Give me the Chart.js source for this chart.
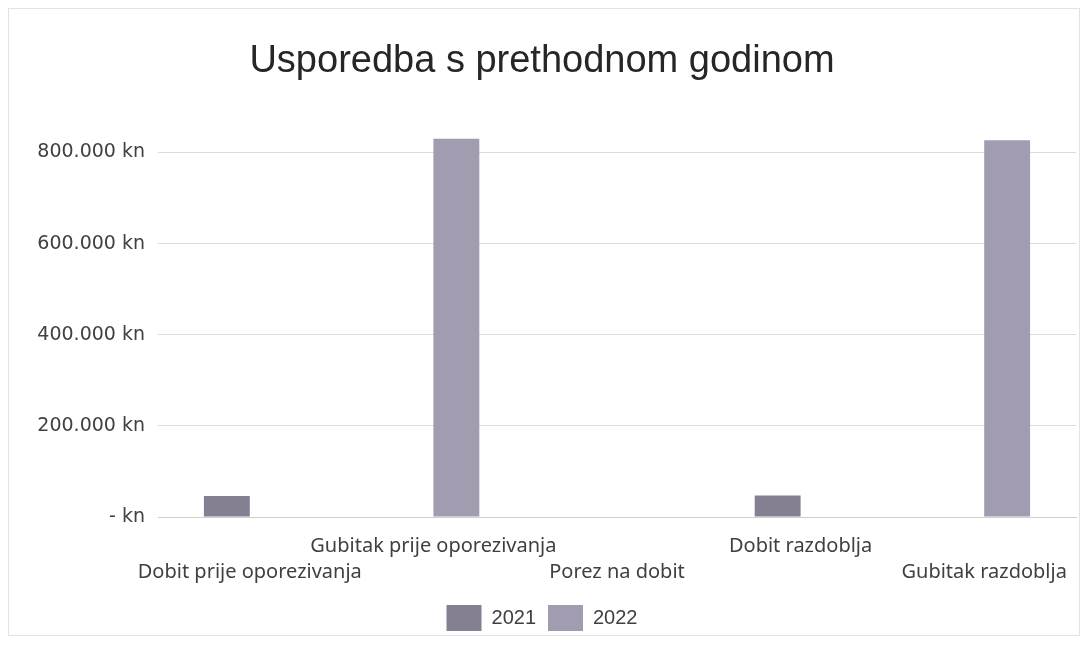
<!DOCTYPE html>
<html>
<head>
<meta charset="utf-8">
<title>Usporedba s prethodnom godinom</title>
<script src="https://cdn.jsdelivr.net/npm/chart.js"></script>
<style>
  html, body { margin: 0; padding: 0; background: #ffffff; }
  #wrap { position: relative; width: 1084px; height: 666px; }
  #frame {
    position: absolute; left: 8px; top: 8px; width: 1072px; height: 628px;
    border: 1px solid #e2e2e2; box-sizing: border-box; pointer-events: none;
  }
</style>
</head>
<body>
<div id="wrap">
  <canvas id="chart" width="1084" height="666"></canvas>
  <div id="frame"></div>
</div>
<script>
/* ================= DATA ================= */
const categories = [
  "Dobit prije oporezivanja",
  "Gubitak prije oporezivanja",
  "Porez na dobit",
  "Dobit razdoblja",
  "Gubitak razdoblja"
];
const values2021 = [46000, 0, 0, 47000, 0];
const values2022 = [0, 830000, 0, 0, 827000];

const yTickValues = [0, 200000, 400000, 600000, 800000];
const yTickLabels = ["- kn", "200.000 kn", "400.000 kn", "600.000 kn", "800.000 kn"];

/* ================= CHART ================= */
const ctx = document.getElementById("chart").getContext("2d");

new Chart(ctx, {
  type: "bar",
  data: {
    labels: categories,
    datasets: [{
      label: "2021",
      data: values2021,
      backgroundColor: "#857f92",
      categoryPercentage: 0.5,
      barPercentage: 1.0
    }, {
      label: "2022",
      data: values2022,
      backgroundColor: "#a29cb0",
      categoryPercentage: 0.5,
      barPercentage: 1.0
    }]
  },
  options: {
    responsive: false,
    animation: false,
    layout: { padding: { left: 8, right: 8, top: 20, bottom: 25 } },
    plugins: {
      title: {
        display: true,
        text: "Usporedba s prethodnom godinom",
        color: "#262626",
        font: { family: "Liberation Sans", size: 38, weight: "normal" },
        padding: { top: 19, bottom: 36 }
      },
      legend: {
        position: "bottom",
        labels: {
          boxWidth: 35,
          boxHeight: 26,
          padding: 12,
          color: "#404040",
          font: { family: "Liberation Sans", size: 20 }
        }
      },
      tooltip: { enabled: false }
    },
    scales: {
      x: {
        grid: { display: false },
        border: { color: "#cfcfcf" },
        ticks: {
          autoSkip: false,
          maxRotation: 0,
          padding: 8,
          color: "#404040",
          font: { family: "Noto Sans", size: 20, lineHeight: 1.3 },
          // alternate rows like the original
          callback: function (value, i) {
            const label = categories[i];
            return i % 2 === 0 ? ["", label] : label;
          }
        }
      },
      y: {
        min: 0,
        max: 870000,
        border: { display: false },
        grid: { color: "#dcdcdc", drawTicks: false },
        afterFit: axis => { axis.width = 150; },
        afterBuildTicks: axis => {
          axis.ticks = yTickValues.map(v => ({ value: v }));
        },
        ticks: {
          padding: 13,
          color: "#404040",
          font: { family: "DejaVu Sans", size: 19 },
          callback: value => yTickLabels[yTickValues.indexOf(value)]
        }
      }
    }
  }
});
</script>
</body>
</html>
